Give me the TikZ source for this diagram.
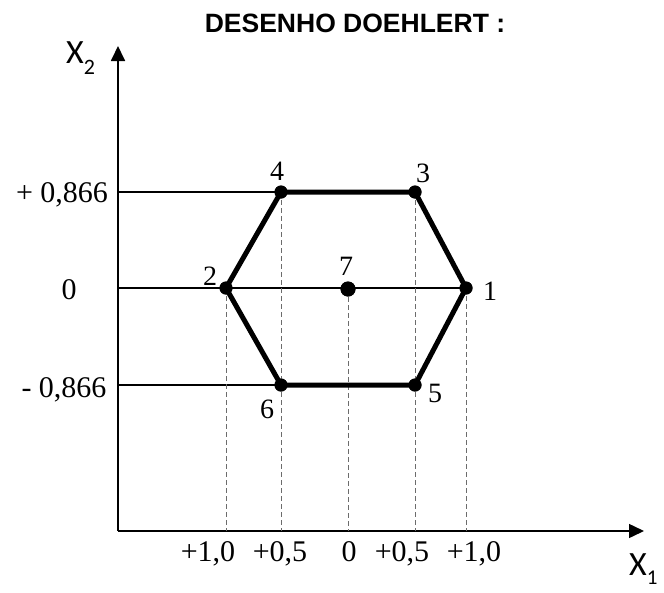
\documentclass[tikz,border=0pt]{standalone}
\usepackage{fontspec}
\setmainfont{Liberation Serif}
\newfontfamily\arialb{Liberation Sans}
\newfontfamily\calib{Carlito}
\usetikzlibrary{arrows.meta}
\begin{document}
\begin{tikzpicture}[x=1pt,y=-1pt,
  axis/.style={line width=1.8pt,-{Triangle[width=14pt,length=15pt]}},
  hline/.style={line width=1.4pt},
  dline/.style={line width=1pt,gray!85!black,dash pattern=on 5pt off 3pt},
  hexedge/.style={line width=5pt,line join=round},
  dot/.style={circle,fill=black,inner sep=0pt,minimum size=13pt},
  numlab/.style={font=\fontsize{30}{30}\selectfont,anchor=base,inner sep=0pt},
  ptlab/.style={font=\fontsize{28}{28}\selectfont,anchor=base,inner sep=0pt}]
\useasboundingbox (0,0) rectangle (664,592);
% axes
\coordinate (O) at (118,531);
\coordinate (ytip) at (118,46);
\coordinate (xtip) at (644,531);
\draw[axis] (O) -- (ytip);
\draw[axis,line width=1.5pt] (O) -- (xtip);
% points
\node[dot] (p1) at (466,288) {};
\node[dot] (p2) at (226,288) {};
\node[dot] (p3) at (415,192) {};
\node[dot] (p4) at (281,192) {};
\node[dot] (p5) at (415,385) {};
\node[dot] (p6) at (281,385) {};
\node[dot,minimum size=15pt] (p7) at (348,289) {};
% horizontal reference lines
\coordinate (ya) at (118,192);
\coordinate (yb) at (118,288);
\coordinate (yc) at (118,385);
\draw[hline] (ya) -- (p4.center);
\draw[hline] (yb) -- (p1.center);
\draw[hline] (yc) -- (p6.center);
% dashed drops
\coordinate (xa) at (226,531);
\coordinate (xb) at (281,531);
\coordinate (xc) at (348,531);
\coordinate (xd) at (415,531);
\coordinate (xe) at (466,531);
\draw[dline] (p2.center) -- (xa);
\draw[dline] (p4.center) -- (xb);
\draw[dline] (p7.center) -- (xc);
\draw[dline] (p3.center) -- (xd);
\draw[dline] (p1.center) -- (xe);
% hexagon
\draw[hexedge] (p1.center) -- (p3.center) -- (p4.center) -- (p2.center) -- (p6.center) -- (p5.center) -- cycle;
% redraw dots on top
\foreach \p in {p1,p2,p3,p4,p5,p6} \fill (\p) circle (6.5pt);
\fill (p7) circle (7.5pt);
% point labels
\node[ptlab] (l1) at (490,300) {1};
\node[ptlab] (l2) at (210,285) {2};
\node[ptlab] (l3) at (423,182) {3};
\node[ptlab] (l4) at (277,180) {4};
\node[ptlab] (l5) at (435,402) {5};
\node[ptlab] (l6) at (267,418) {6};
\node[ptlab] (l7) at (346,275) {7};
% axis values
\node[numlab] (v1) at (62,202) {+ 0,866};
\node[numlab] (v2) at (69,299) {0};
\node[numlab] (v3) at (64,397) {- 0,866};
\node[numlab] (h1) at (208,561) {+1,0};
\node[numlab] (h2) at (280,561) {+0,5};
\node[numlab] (h3) at (349,561) {0};
\node[numlab] (h4) at (402,561) {+0,5};
\node[numlab] (h5) at (474,561) {+1,0};
% axis names
\node[anchor=base west,inner sep=0pt,font=\calib\fontsize{34}{34}\selectfont] (X2) at (66,63) {X\raisebox{-11pt}{\fontsize{22}{22}\selectfont 2}};
\node[anchor=base west,inner sep=0pt,font=\calib\fontsize{34}{34}\selectfont] (X1) at (629,575) {X\raisebox{-9pt}{\fontsize{21}{21}\selectfont 1}};
% title
\node[anchor=base,inner sep=0pt,font=\arialb\bfseries\fontsize{26.5}{26.5}\selectfont] (title) at (355,32) {DESENHO DOEHLERT :};
\end{tikzpicture}
\end{document}
